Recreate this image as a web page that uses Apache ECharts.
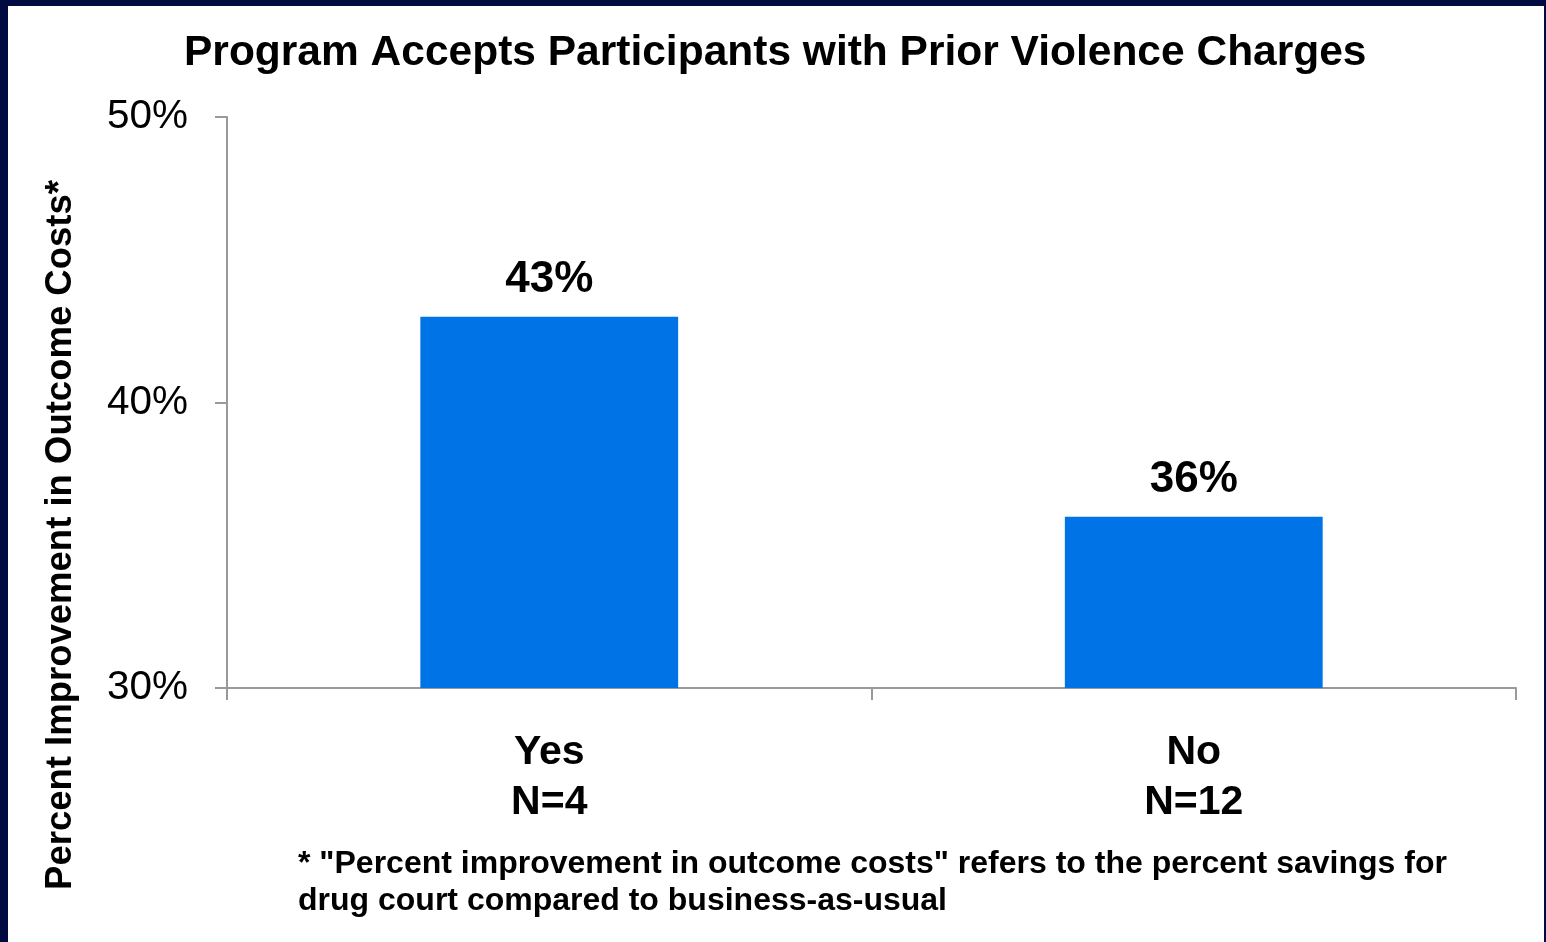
<!DOCTYPE html>
<html>
<head>
<meta charset="utf-8">
<script src="https://cdn.jsdelivr.net/npm/echarts@6/dist/echarts.min.js"></script>
<style>
html,body{margin:0;padding:0;}
#frame{position:relative;width:1546px;height:942px;background:#020A42;overflow:hidden;}
#paper{position:absolute;left:8px;top:6px;width:1536px;height:936px;background:#ffffff;}
#chart{position:absolute;left:0;top:0;width:1546px;height:942px;}
</style>
</head>
<body>
<div id="frame"><div id="paper"></div><div id="chart"></div></div>
<script>
const titleText = 'Program Accepts Participants with Prior Violence Charges';
const categories = ['Yes\nN=4', 'No\nN=12'];
const values = [43, 36];
const yAxisTitle = 'Percent Improvement in Outcome Costs*';
const footnote = '* "Percent improvement in outcome costs" refers to the percent savings for\ndrug court compared to business-as-usual';
const yMin = 30, yMax = 50, yStep = 10;

const FONT = '"Liberation Sans", Arial, Helvetica, sans-serif';
const chart = echarts.init(document.getElementById('chart'), null, {renderer: 'canvas'});
chart.setOption({
  backgroundColor: 'transparent',
  animation: false,
  title: {
    text: titleText,
    left: 184,
    top: 32,
    padding: 0,
    textStyle: {fontFamily: FONT, fontSize: 42.5, fontWeight: 'bold', color: '#000'}
  },
  grid: {left: 227, right: 30, top: 117, bottom: 254, containLabel: false},
  xAxis: {
    type: 'category',
    data: categories,
    boundaryGap: true,
    axisLine: {lineStyle: {color: '#999', width: 2}},
    axisTick: {show: true, length: 12, lineStyle: {color: '#999', width: 2}},
    axisLabel: {
      margin: 40,
      fontFamily: FONT, fontSize: 41, fontWeight: 'bold', color: '#000', lineHeight: 50
    },
    splitLine: {show: false}
  },
  yAxis: {
    type: 'value',
    min: yMin, max: yMax, interval: yStep,
    axisLine: {show: true, lineStyle: {color: '#999', width: 2}},
    axisTick: {show: true, length: 12, lineStyle: {color: '#999', width: 2}},
    axisLabel: {
      margin: 39,
      formatter: '{value}%',
      fontFamily: FONT, fontSize: 40.5, color: '#000'
    },
    splitLine: {show: false}
  },
  series: [{
    type: 'bar',
    data: values,
    barWidth: '40%',
    itemStyle: {color: '#0073E6'},
    label: {
      show: true,
      position: 'top',
      distance: 15,
      formatter: '{c}%',
      fontFamily: FONT, fontSize: 44, fontWeight: 'bold', color: '#000'
    }
  }],
  graphic: [
    {
      type: 'text',
      x: 61, y: 535,
      rotation: Math.PI / 2,
      style: {
        text: yAxisTitle,
        fontFamily: FONT, fontSize: 36.5, fontWeight: 'bold', fill: '#000',
        align: 'center', verticalAlign: 'middle'
      }
    },
    {
      type: 'text',
      x: 298, y: 846,
      style: {
        text: footnote,
        fontFamily: FONT, fontSize: 32, fontWeight: 'bold', fill: '#000',
        lineHeight: 37, align: 'left', verticalAlign: 'top'
      }
    }
  ]
});
</script>
</body>
</html>
